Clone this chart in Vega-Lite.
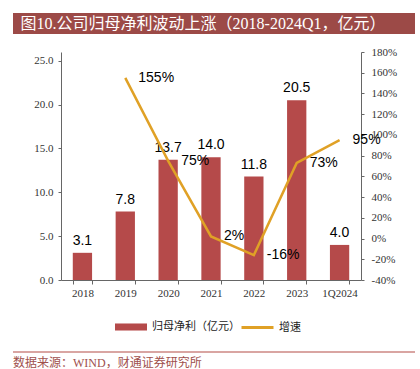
{
  "$schema": "https://vega.github.io/schema/vega-lite/v6.json",
  "padding": {"left": 13, "top": 13, "right": 0, "bottom": 0},
  "background": "white",
  "spacing": 12,
  "config": {"view": {"stroke": null}, "font": "Liberation Sans", "axis": {"grid": false, "labelOverlap": false}, "legend": {"layout": {"anchor": "middle", "bottom": {"anchor": "middle"}}}, "locale": {"number": {"decimal": ".", "thousands": ",", "grouping": [3], "currency": ["$", ""], "minus": "-"}}},
  "resolve": {"scale": {"color": "independent", "stroke": "independent"}, "legend": {"color": "independent", "stroke": "independent"}},
  "vconcat": [
    {
      "width": 402,
      "height": 21,
      "view": {"fill": "#9C4A47", "stroke": null},
      "data": {"values": [{"t": "图10.公司归母净利波动上涨（2018-2024Q1，亿元）"}]},
      "mark": {"type": "text", "color": "white", "font": "Liberation Serif, Noto Sans CJK SC", "fontSize": 16, "dx": -11},
      "encoding": {"text": {"field": "t"}}
    },
    {
      "spacing": 0,
      "resolve": {"scale": {"color": "independent", "stroke": "independent"}, "legend": {"color": "independent", "stroke": "independent"}},
      "hconcat": [
        {
          "width": 20,
          "height": 10,
          "data": {"values": [{"t": ""}]},
          "mark": "text",
          "encoding": {"text": {"field": "t"}}
        },
        {
          "width": 300,
          "height": 228,
          "data": {"values": [
            {"year": "2018", "profit": 3.1, "growth": null},
            {"year": "2019", "profit": 7.8, "growth": 1.55},
            {"year": "2020", "profit": 13.7, "growth": 0.75},
            {"year": "2021", "profit": 14.0, "growth": 0.02},
            {"year": "2022", "profit": 11.8, "growth": -0.16},
            {"year": "2023", "profit": 20.5, "growth": 0.73},
            {"year": "1Q2024", "profit": 4.0, "growth": 0.95}
          ]},
          "encoding": {
            "x": {
              "field": "year", "type": "ordinal", "sort": null,
              "scale": {"paddingInner": 0.55, "paddingOuter": 0.275},
              "axis": {"title": null, "labelAngle": 0, "tickBand": "extent", "domainColor": "#666", "tickColor": "#666", "tickSize": 4, "labelFont": "Liberation Serif", "labelFontSize": 11, "labelColor": "#333", "labelPadding": 3}
            }
          },
          "layer": [
            {
              "layer": [
                {
                  "mark": {"type": "bar"},
                  "encoding": {
                    "y": {"field": "profit", "type": "quantitative", "scale": {"domain": [0, 25]},
                      "axis": {"title": null, "values": [0, 5, 10, 15, 20, 25], "tickCount": 6, "format": ".1f", "labelOverlap": false, "domainColor": "#666", "tickColor": "#666", "tickSize": 3, "labelFont": "Liberation Serif", "labelFontSize": 11, "labelColor": "#333", "labelPadding": 5}},
                    "color": {"datum": "归母净利（亿元）", "scale": {"range": ["#B54A4A"]},
                      "legend": {"title": null, "orient": "bottom", "symbolType": "M-2,-0.44H2V0.44H-2Z", "symbolSize": 256, "labelFont": "Noto Sans CJK SC", "labelFontSize": 11, "labelColor": "#222", "offset": 20, "labelOffset": 12, "padding": 0}}
                  }
                },
                {
                  "mark": {"type": "text", "dy": -8, "baseline": "alphabetic", "fontSize": 14, "color": "#000"},
                  "encoding": {
                    "y": {"field": "profit", "type": "quantitative"},
                    "text": {"field": "profit", "type": "quantitative", "format": ".1f"}
                  }
                }
              ]
            },
            {
              "layer": [
                {
                  "mark": {"type": "line", "strokeWidth": 2.5},
                  "encoding": {
                    "y": {"field": "growth", "type": "quantitative", "scale": {"domain": [-0.4, 1.8]},
                      "axis": {"orient": "right", "title": null, "values": [-0.4, -0.2, 0, 0.2, 0.4, 0.6, 0.8, 1.0, 1.2, 1.4, 1.6, 1.8], "tickCount": 12, "format": ".0%", "labelOverlap": false, "domainColor": "#666", "tickColor": "#666", "tickSize": 3, "labelFont": "Liberation Serif", "labelFontSize": 11, "labelColor": "#333", "labelPadding": 7}},
                    "stroke": {"datum": "增速", "scale": {"range": ["#E0A126"]},
                      "legend": {"title": null, "orient": "bottom", "symbolType": "M-2,0H2", "symbolSize": 256, "symbolStrokeWidth": 3, "labelFont": "Noto Sans CJK SC", "labelFontSize": 11, "labelColor": "#222", "offset": 20, "labelOffset": 12, "padding": 0}}
                  }
                },
                {
                  "mark": {"type": "text", "align": "left", "dx": 13, "baseline": "middle", "fontSize": 14, "color": "#000"},
                  "encoding": {
                    "y": {"field": "growth", "type": "quantitative"},
                    "text": {"field": "growth", "type": "quantitative", "format": ".0%"}
                  }
                }
              ]
            }
          ],
          "resolve": {"scale": {"y": "independent"}}
        }
      ]
    },
    {
      "width": 402,
      "height": 2,
      "view": {"fill": "#D9A5A2", "stroke": null},
      "title": {"text": "数据来源：WIND，财通证券研究所", "orient": "bottom", "anchor": "start", "offset": 1, "fontSize": 12, "fontWeight": "normal", "color": "#A0504D", "font": "Liberation Serif, Noto Sans CJK SC"},
      "data": {"values": [{"t": ""}]},
      "mark": "text",
      "encoding": {"text": {"field": "t"}}
    }
  ]
}
